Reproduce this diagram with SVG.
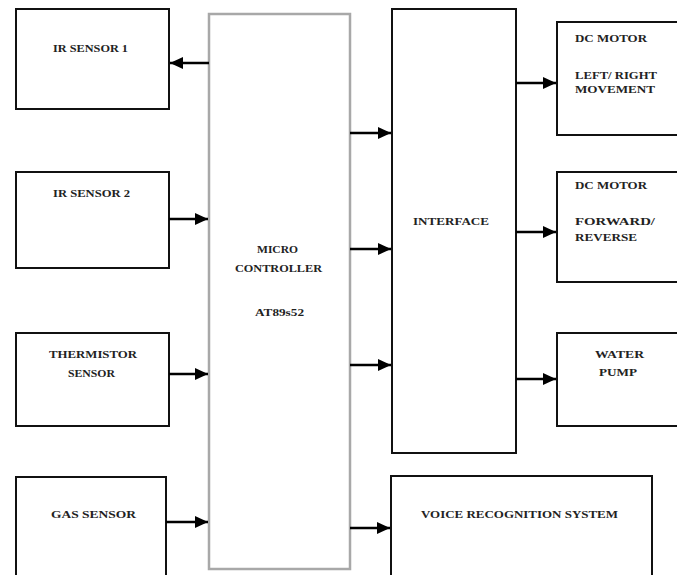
<svg xmlns="http://www.w3.org/2000/svg" width="677" height="575" viewBox="0 0 677 575">
<defs>
<marker id="ah" markerUnits="userSpaceOnUse" markerWidth="14" markerHeight="12" refX="13" refY="6" orient="auto">
<path d="M0,0 L13,6 L0,12 Z" fill="#000"/>
</marker>
<style>
.box{fill:#fff;stroke:#111;stroke-width:2}
.mc{fill:#fff;stroke:#a8a8a8;stroke-width:2.5}
.t{font-family:"Liberation Serif","Times New Roman",serif;font-size:11px;font-weight:bold;fill:#222}
.c{text-anchor:middle}
.ln{stroke:#000;stroke-width:2.5;fill:none;marker-end:url(#ah)}
</style>
</defs>
<rect width="677" height="575" fill="#fff"/>
<g id="ir1"><rect class="box" x="16" y="9" width="153" height="100"/><text class="t" x="53" y="52" textLength="75" lengthAdjust="spacingAndGlyphs">IR SENSOR 1</text></g>
<g id="ir2"><rect class="box" x="16" y="172" width="153" height="96"/><text class="t" x="53" y="197" textLength="77" lengthAdjust="spacingAndGlyphs">IR SENSOR 2</text></g>
<g id="therm"><rect class="box" x="16" y="333" width="153" height="93"/><text class="t" x="49" y="358" textLength="88" lengthAdjust="spacingAndGlyphs">THERMISTOR</text><text class="t" x="68" y="377" textLength="47" lengthAdjust="spacingAndGlyphs">SENSOR</text></g>
<g id="gas"><rect class="box" x="16" y="477" width="150" height="110"/><text class="t" x="51" y="518" textLength="85" lengthAdjust="spacingAndGlyphs">GAS SENSOR</text></g>
<g id="mc"><rect class="mc" x="209" y="14" width="141" height="555"/><text class="t" x="257" y="253" textLength="41" lengthAdjust="spacingAndGlyphs">MICRO</text><text class="t" x="235" y="272" textLength="87" lengthAdjust="spacingAndGlyphs">CONTROLLER</text><text class="t" x="255" y="316" textLength="49" lengthAdjust="spacingAndGlyphs">AT89s52</text></g>
<g id="iface"><rect class="box" x="392" y="9" width="124" height="444"/><text class="t" x="413" y="225" textLength="76" lengthAdjust="spacingAndGlyphs">INTERFACE</text></g>
<g id="voice"><rect class="box" x="391" y="476" width="261" height="110"/><text class="t" x="421" y="518" textLength="197" lengthAdjust="spacingAndGlyphs">VOICE RECOGNITION SYSTEM</text></g>
<g id="dc1"><rect class="box" x="557" y="22" width="130" height="113"/><text class="t" x="575" y="42" textLength="72" lengthAdjust="spacingAndGlyphs">DC MOTOR</text><text class="t" x="575" y="79" textLength="82" lengthAdjust="spacingAndGlyphs">LEFT/ RIGHT</text><text class="t" x="575" y="93" textLength="80" lengthAdjust="spacingAndGlyphs">MOVEMENT</text></g>
<g id="dc2"><rect class="box" x="557" y="172" width="130" height="110"/><text class="t" x="575" y="189" textLength="72" lengthAdjust="spacingAndGlyphs">DC MOTOR</text><text class="t" x="575" y="225" textLength="80" lengthAdjust="spacingAndGlyphs">FORWARD/</text><text class="t" x="575" y="241" textLength="62" lengthAdjust="spacingAndGlyphs">REVERSE</text></g>
<g id="pump"><rect class="box" x="557" y="333" width="130" height="93"/><text class="t" x="595" y="358" textLength="49" lengthAdjust="spacingAndGlyphs">WATER</text><text class="t" x="599" y="376" textLength="38" lengthAdjust="spacingAndGlyphs">PUMP</text></g>
<g id="connectors">
<line class="ln" x1="209" y1="63" x2="170" y2="63"/>
<line class="ln" x1="169" y1="219" x2="208" y2="219"/>
<line class="ln" x1="169" y1="374" x2="208" y2="374"/>
<line class="ln" x1="166" y1="522" x2="208" y2="522"/>
<line class="ln" x1="350" y1="133" x2="391" y2="133"/>
<line class="ln" x1="350" y1="249" x2="391" y2="249"/>
<line class="ln" x1="350" y1="365" x2="391" y2="365"/>
<line class="ln" x1="350" y1="528" x2="390" y2="528"/>
<line class="ln" x1="516" y1="83" x2="556" y2="83"/>
<line class="ln" x1="516" y1="232" x2="556" y2="232"/>
<line class="ln" x1="516" y1="379" x2="556" y2="379"/>
</g>
</svg>
